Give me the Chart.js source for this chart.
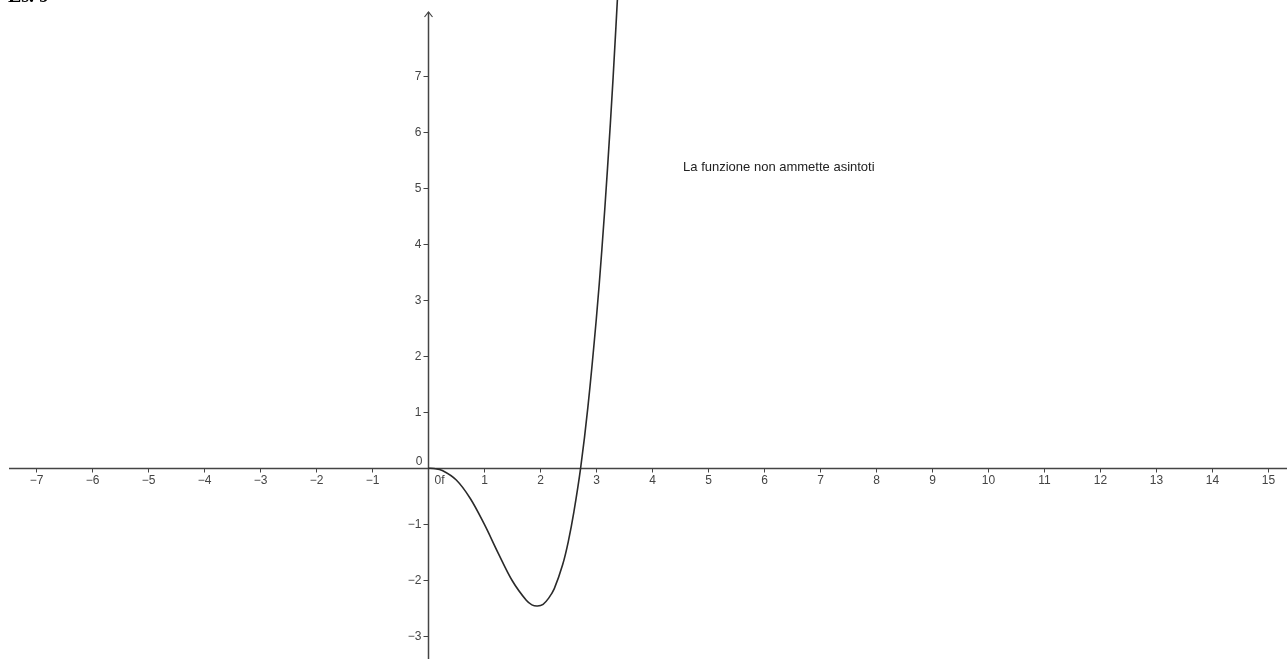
<!DOCTYPE html>
<html>
<head>
<meta charset="utf-8">
<script src="https://cdn.jsdelivr.net/npm/chart.js@4/dist/chart.umd.min.js"></script>
<style>
	html, body { margin: 0; padding: 0; background: #fff; }
	#wrap { width: 1287px; height: 659px; position: relative; }
</style>
</head>
<body>
<div id="wrap"><canvas id="funzione_chart"></canvas></div>
<script>
/* values: f on [0, 3.4] */
var curveX = [0, 0.1, 0.25, 0.5, 0.75, 1, 1.25, 1.5, 1.75, 1.85, 1.95, 2.05, 2.15, 2.25, 2.4, 2.5, 2.6, 2.72, 2.85, 3, 3.1, 3.2, 3.3, 3.4];
var curveY = [0, -0.004, -0.04, -0.21, -0.54, -1.0, -1.52, -2.01, -2.36, -2.44, -2.46, -2.43, -2.32, -2.15, -1.72, -1.31, -0.78, 0, 1.09, 2.66, 3.91, 5.35, 6.97, 8.8];

var xTicks = [-7, -6, -5, -4, -3, -2, -1, 1, 2, 3, 4, 5, 6, 7, 8, 9, 10, 11, 12, 13, 14, 15];
var yTicks = [-3, -2, -1, 0, 1, 2, 3, 4, 5, 6, 7];

var noteText = 'La funzione non ammette asintoti';
var titleText = 'Es. 9';
var originText = '0f';

var points = [];
for (var i = 0; i < curveX.length; i++) {
	points.push({ x: curveX[i], y: curveY[i] });
}

function fmt(v) {
	return v < 0 ? '\u2212' + Math.abs(v) : String(v);
}

/* GeoGebra-like axes through the origin */
var assiPlugin = {
	id: 'assi',
	beforeDatasetsDraw: function (chart) {
		var ctx = chart.ctx;
		var sx = chart.scales.x, sy = chart.scales.y;
		var ox = Math.round(sx.getPixelForValue(0)) + 0.5;
		var oy = Math.round(sy.getPixelForValue(0)) + 0.5;
		var area = chart.chartArea;

		ctx.save();
		ctx.strokeStyle = '#444';
		ctx.lineWidth = 1.5;

		ctx.beginPath();
		ctx.moveTo(area.left + 9, oy);
		ctx.lineTo(area.right, oy);
		ctx.moveTo(ox, area.bottom);
		ctx.lineTo(ox, area.top + 12);
		ctx.stroke();

		// arrow on y axis
		ctx.lineWidth = 1.2;
		ctx.beginPath();
		ctx.moveTo(ox - 4, area.top + 17);
		ctx.lineTo(ox, area.top + 12);
		ctx.lineTo(ox + 4, area.top + 17);
		ctx.stroke();

		ctx.lineWidth = 1;
		ctx.fillStyle = '#444';
		ctx.font = '12px "Liberation Sans", Arial, sans-serif';

		// x ticks
		ctx.textAlign = 'center';
		ctx.textBaseline = 'middle';
		xTicks.forEach(function (v) {
			var px = Math.round(sx.getPixelForValue(v)) + 0.5;
			ctx.beginPath();
			ctx.moveTo(px, oy);
			ctx.lineTo(px, oy + 4);
			ctx.stroke();
			ctx.fillText(fmt(v), px, oy + 12);
		});

		// y ticks
		ctx.textAlign = 'right';
		yTicks.forEach(function (v) {
			var py = Math.round(sy.getPixelForValue(v)) + 0.5;
			if (v === 0) {
				ctx.fillText('0', ox - 6, py - 7);
				return;
			}
			ctx.beginPath();
			ctx.moveTo(ox - 5, py);
			ctx.lineTo(ox, py);
			ctx.stroke();
			ctx.fillText(fmt(v), ox - 7, py);
		});

		ctx.textAlign = 'left';
		ctx.fillText(originText, ox + 6, oy + 12);

		ctx.fillStyle = '#222';
		ctx.font = '13px "Liberation Sans", Arial, sans-serif';
		ctx.fillText(noteText, sx.getPixelForValue(4.55), sy.getPixelForValue(5.38));

		ctx.fillStyle = '#000';
		ctx.font = 'bold 20px "Liberation Serif", "Times New Roman", serif';
		ctx.textBaseline = 'alphabetic';
		ctx.fillText(titleText, 8, 2);
		ctx.restore();
	}
};

const funzione_chart = document.getElementById('funzione_chart');

var FunzioneChart = new Chart(funzione_chart, {
	type: 'scatter',
	data: {
		datasets: [{
			label: 'f',
			data: points,
			showLine: true,
			fill: false,
			borderColor: '#2a2a2a',
			borderWidth: 1.6,
			pointRadius: 0,
			pointHoverRadius: 0,
			tension: 0.35
		}]
	},
	options: {
		responsive: true,
		maintainAspectRatio: false,
		animation: false,
		layout: { padding: 0 },
		scales: {
			x: {
				type: 'linear',
				min: -7.648,
				max: 15.334,
				display: false
			},
			y: {
				type: 'linear',
				min: -3.407,
				max: 8.361,
				display: false
			}
		},
		plugins: {
			legend: { display: false },
			tooltip: { enabled: false },
			title: { display: false }
		}
	},
	plugins: [assiPlugin]
});
</script>
</body>
</html>
